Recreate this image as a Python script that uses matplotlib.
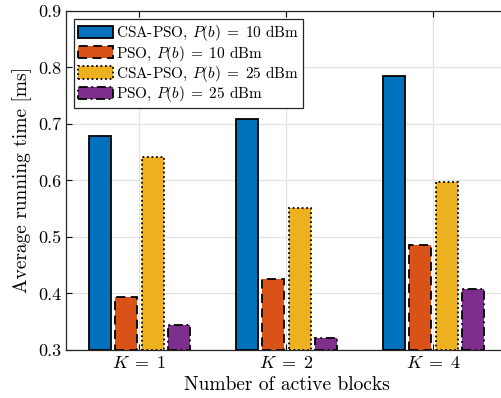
import numpy as np
import matplotlib
matplotlib.use('Agg')
import matplotlib.pyplot as plt

plt.rcParams['font.family'] = 'serif'
plt.rcParams['font.serif'] = ['cmr10']
plt.rcParams['mathtext.fontset'] = 'cm'
plt.rcParams['axes.formatter.use_mathtext'] = True

groups = ['$K\\;=\\;1$', '$K\\;=\\;2$', '$K\\;=\\;4$']
labels = ['CSA-PSO, $P(b)\\;=\\;10$ dBm', 'PSO, $P(b)\\;=\\;10$ dBm',
          'CSA-PSO, $P(b)\\;=\\;25$ dBm', 'PSO, $P(b)\\;=\\;25$ dBm']
csa_10 = [0.678, 0.709, 0.785]
pso_10 = [0.393, 0.425, 0.485]
csa_25 = [0.642, 0.552, 0.598]
pso_25 = [0.345, 0.321, 0.408]

series = [csa_10, pso_10, csa_25, pso_25]
colors = ['#0072BD', '#D95319', '#EDB120', '#7E2F8E']
styles = ['-', (0, (5, 3)), (0, (1, 1.5)), (0, (5, 2, 1, 2))]

fig = plt.figure(figsize=(5.02, 3.98), dpi=100)
ax = fig.add_axes([0.1315, 0.1206, 0.878, 0.8518])

x = np.arange(1, 4)
w = 0.15
offs = [-0.27, -0.09, 0.09, 0.27]
for vals, c, ls, lab, o in zip(series, colors, styles, labels, offs):
    ax.bar(x + o, np.array(vals) - 0.3, w, bottom=0.3, color=c, edgecolor='black',
           linewidth=1.3, linestyle=ls, label=lab, zorder=3)

ax.set_xlim(0.5, 3.5)
ax.set_ylim(0.3, 0.9)
ax.set_xticks(x)
ax.set_xticklabels(groups)
ax.set_yticks(np.arange(0.3, 0.91, 0.1))
ax.set_yticklabels(['0.3', '0.4', '0.5', '0.6', '0.7', '0.8', '0.9'])
ax.tick_params(direction='in', top=True, right=False, labelsize=13, length=4, width=0.8)
ax.grid(True, color='#e3e3e3', linewidth=0.9, zorder=0)
for s in ax.spines.values():
    s.set_linewidth(0.9)
    s.set_color('#262626')
ax.spines['right'].set_visible(False)

ax.set_xlabel('Number of active blocks', fontsize=14)
ax.set_ylabel('Average running time [ms]', fontsize=14)

leg = ax.legend(loc='upper left', fontsize=11, frameon=True, fancybox=False,
                framealpha=1, edgecolor='#262626', handlelength=2.25, handleheight=0.85,
                borderpad=0.25, labelspacing=0.02, handletextpad=0.25,
                bbox_to_anchor=(0.0, 1.0), borderaxespad=0.55)
leg.get_frame().set_linewidth(0.9)
leg.set_zorder(5)

fig.savefig('out.png', dpi=100)
